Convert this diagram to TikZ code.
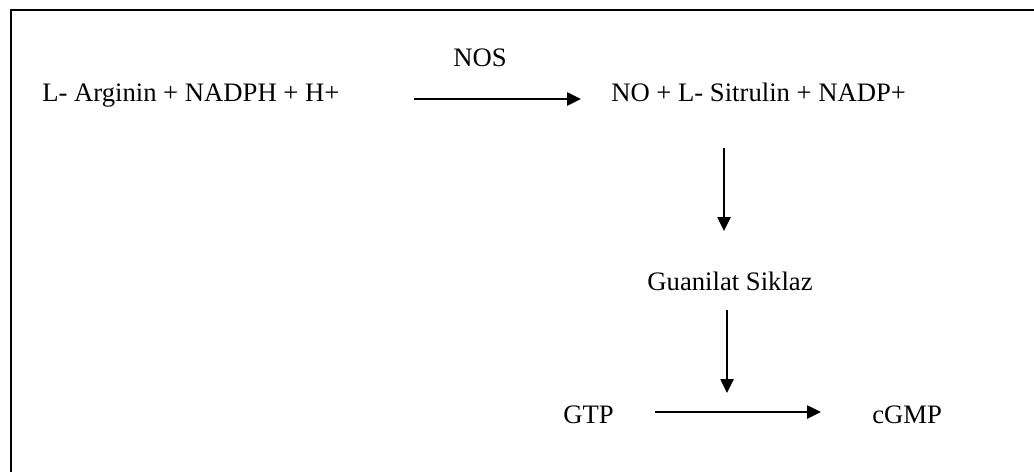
\documentclass[tikz,border=0pt]{standalone}
\usepackage{fontspec}
\setmainfont{Liberation Serif}
\usetikzlibrary{arrows.meta}
\begin{document}
\begin{tikzpicture}[x=0.75pt,y=-0.75pt,
  lbl/.style={inner sep=0pt,anchor=base west,font=\fontsize{20}{24}\selectfont},
  arr/.style={line width=1.1pt,-{Triangle[length=10.5pt,width=10pt]}},
  frame/.style={line width=1.6pt}]
  \useasboundingbox (0,0) rectangle (1034,472);
  % frame (open on the right and bottom)
  \draw[frame] (1034,10) -- (11,10) -- (11,472);

  % labels
  \node[lbl] (arg) at (42,101) {L- Arginin + NADPH + H+};
  \node[lbl,anchor=base] (nos) at (480,66) {NOS};
  \node[lbl] (no) at (611,101) {NO + L- Sitrulin + NADP+};
  \node[lbl,anchor=base] (gs) at (730,290) {Guanilat Siklaz};
  \node[lbl] (gtp) at (563,423) {GTP};
  \node[lbl] (cgmp) at (872,423) {cGMP};

  % arrow end points
  \coordinate (a1s) at (414,99);
  \coordinate (a1e) at (581,99);
  \coordinate (a2s) at (724,148);
  \coordinate (a2e) at (724,231);
  \coordinate (a3s) at (727,310);
  \coordinate (a3e) at (727,393);
  \coordinate (a4s) at (655,412);
  \coordinate (a4e) at (821,412);

  % connectors
  \draw[arr] (a1s) -- (a1e);
  \draw[arr] (a2s) -- (a2e);
  \draw[arr] (a3s) -- (a3e);
  \draw[arr] (a4s) -- (a4e);
\end{tikzpicture}
\end{document}
